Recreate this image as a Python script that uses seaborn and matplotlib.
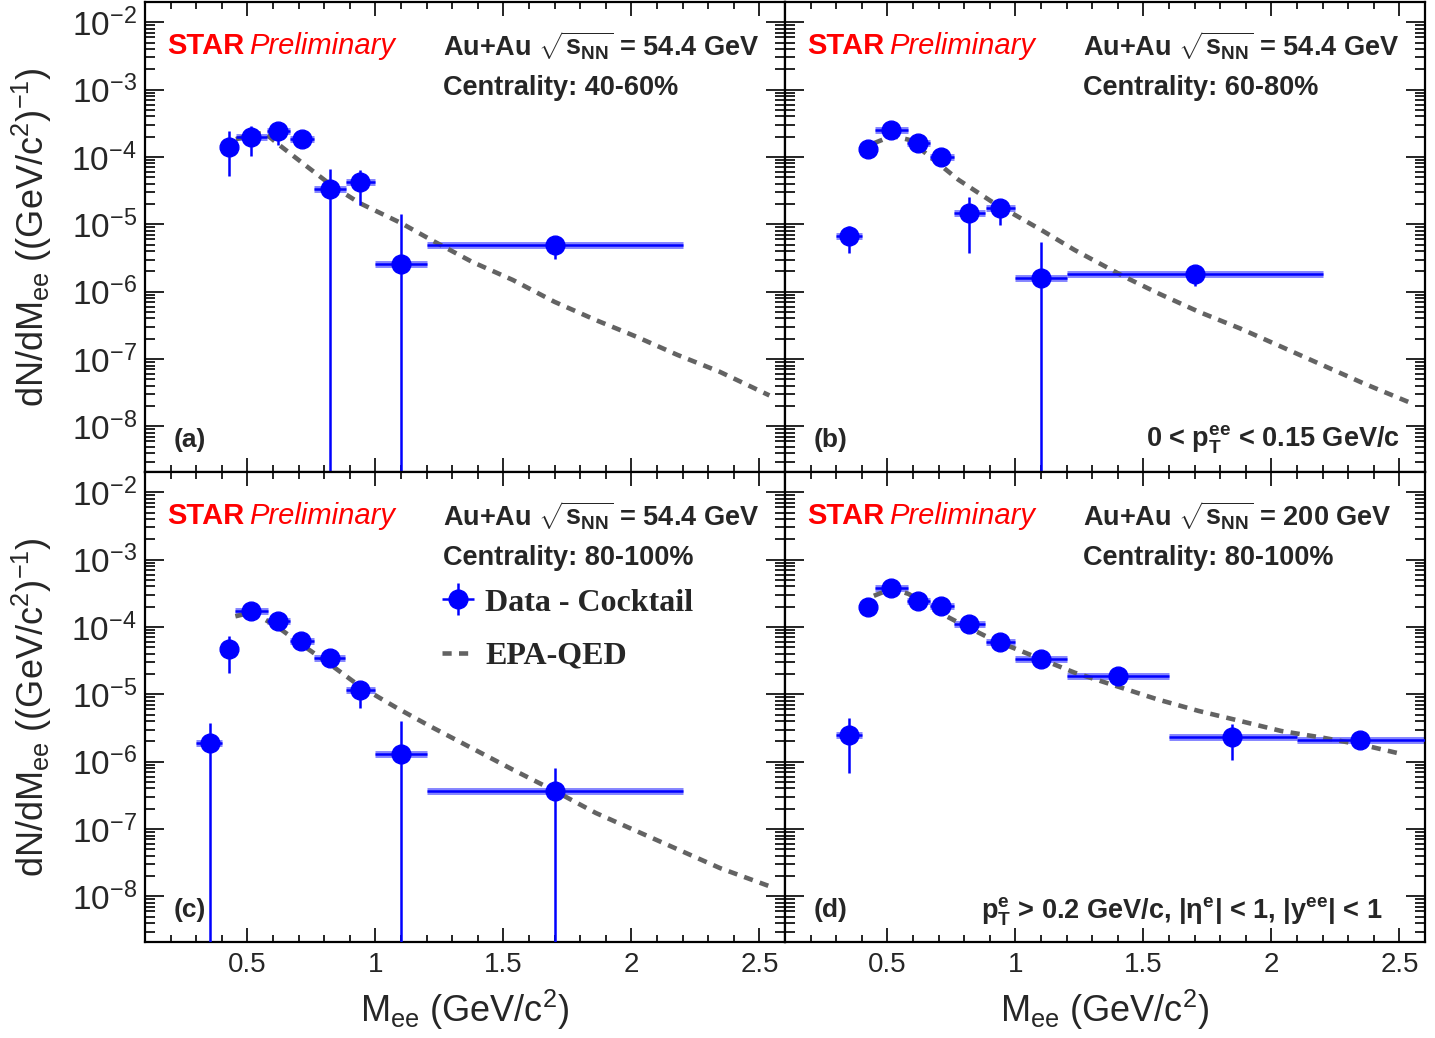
import numpy as np
import matplotlib
matplotlib.use("Agg")
import matplotlib.pyplot as plt
import seaborn as sns
from matplotlib.ticker import (FixedLocator, MultipleLocator, NullFormatter,
                               FuncFormatter, LogFormatterSciNotation)

# ---------------- data ----------------
# Panel (a): Au+Au 54.4 GeV, 40-60%
a_x = [0.427, 0.516, 0.621, 0.713, 0.821, 0.939, 1.10, 1.70]
a_xlo = [0.40, 0.455, 0.575, 0.665, 0.76, 0.885, 1.0, 1.2]
a_xhi = [0.45, 0.575, 0.665, 0.76, 0.885, 1.0, 1.2, 2.2]
a_y = [1.43e-4, 2.0e-4, 2.4e-4, 1.84e-4, 3.36e-5, 4.3e-5, 2.55e-6, 4.93e-6]
a_yhi = [2.4e-4, 2.84e-4, 2.9e-4, 2.1e-4, 6.65e-5, 6.5e-5, 1.43e-5, 5.4e-6]
a_ylo = [5.3e-5, 1.05e-4, 1.5e-4, 1.6e-4, 0.0, 1.95e-5, 0.0, 3.1e-6]
a_cx = [0.455, 0.536, 0.568, 0.632, 0.729, 0.826, 0.939, 1.101, 1.214, 1.376, 1.537,
        1.699, 1.86, 2.02, 2.18, 2.345, 2.539]
a_cy = [1.84e-4, 2.21e-4, 2.26e-4, 1.43e-4, 7.4e-5, 3.85e-5, 2.06e-5, 1.04e-5, 5.98e-6,
        2.79e-6, 1.49e-6, 7.08e-7, 3.8e-7, 2.14e-7, 1.15e-7, 6.46e-8, 2.88e-8]

# Panel (b): Au+Au 54.4 GeV, 60-80%
b_x = [0.350, 0.426, 0.516, 0.620, 0.710, 0.820, 0.940, 1.10, 1.70]
b_xlo = [0.30, 0.40, 0.45, 0.575, 0.665, 0.76, 0.885, 1.0, 1.2]
b_xhi = [0.40, 0.45, 0.58, 0.665, 0.76, 0.88, 1.0, 1.2, 2.2]
b_y = [6.7e-6, 1.32e-4, 2.54e-4, 1.6e-4, 9.9e-5, 1.49e-5, 1.73e-5, 1.57e-6, 1.8e-6]
b_yhi = [9.3e-6, 1.5e-4, 2.9e-4, 1.8e-4, 1.1e-4, 2.58e-5, 2.3e-5, 5.4e-6, 2.1e-6]
b_ylo = [3.7e-6, 1.15e-4, 2.2e-4, 1.4e-4, 8.8e-5, 3.7e-6, 9.7e-6, 0.0, 1.2e-6]
b_cx = [0.447, 0.519, 0.584, 0.665, 0.778, 0.907, 1.101, 1.231, 1.425, 1.554, 1.716,
        1.878, 2.039, 2.2, 2.363, 2.549]
b_cy = [1.6e-4, 2.06e-4, 1.8e-4, 1.02e-4, 4.57e-5, 2.18e-5, 8.24e-6, 4.16e-6, 1.67e-6,
        9.6e-7, 5.03e-7, 2.84e-7, 1.52e-7, 8.1e-8, 4.3e-8, 2.19e-8]

# Panel (c): Au+Au 54.4 GeV, 80-100%
c_x = [0.353, 0.427, 0.515, 0.620, 0.710, 0.821, 0.939, 1.10, 1.70]
c_xlo = [0.30, 0.40, 0.45, 0.575, 0.665, 0.76, 0.885, 1.0, 1.2]
c_xhi = [0.40, 0.45, 0.58, 0.665, 0.76, 0.88, 1.0, 1.2, 2.2]
c_y = [1.89e-6, 4.71e-5, 1.71e-4, 1.24e-4, 6.1e-5, 3.47e-5, 1.15e-5, 1.3e-6, 3.7e-7]
c_yhi = [3.75e-6, 7.4e-5, 1.9e-4, 1.4e-4, 7.0e-5, 3.9e-5, 1.6e-5, 3.97e-6, 8.05e-7]
c_ylo = [0.0, 2.1e-5, 1.55e-4, 1.1e-4, 5.3e-5, 3.0e-5, 6.3e-6, 0.0, 0.0]
c_cx = [0.453, 0.518, 0.615, 0.712, 0.825, 0.939, 1.084, 1.214, 1.375, 1.537, 1.699,
        1.861, 2.023, 2.184, 2.346, 2.54]
c_cy = [1.44e-4, 1.65e-4, 1.02e-4, 5.47e-5, 2.75e-5, 1.32e-5, 6.27e-6, 3.35e-6, 1.6e-6,
        7.6e-7, 3.7e-7, 1.73e-7, 9.2e-8, 4.93e-8, 2.63e-8, 1.41e-8]

# Panel (d): Au+Au 200 GeV, 80-100%
d_x = [0.350, 0.426, 0.516, 0.620, 0.710, 0.820, 0.940, 1.10, 1.40, 1.848, 2.346]
d_xlo = [0.30, 0.40, 0.45, 0.575, 0.665, 0.76, 0.885, 1.0, 1.2, 1.6, 2.1]
d_xhi = [0.40, 0.45, 0.58, 0.665, 0.76, 0.88, 1.0, 1.2, 1.6, 2.1, 2.6]
d_y = [2.49e-6, 2.0e-4, 3.82e-4, 2.4e-4, 2.06e-4, 1.1e-4, 6.08e-5, 3.32e-5, 1.87e-5,
       2.34e-6, 2.09e-6]
d_yhi = [4.4e-6, 2.2e-4, 4.1e-4, 2.6e-4, 2.2e-4, 1.2e-4, 6.6e-5, 3.6e-5, 2.0e-5,
         3.57e-6, 2.6e-6]
d_ylo = [6.8e-7, 1.8e-4, 3.55e-4, 2.2e-4, 1.9e-4, 1.0e-4, 5.6e-5, 3.05e-5, 1.7e-5,
         1.05e-6, 1.6e-6]
d_cx = [0.447, 0.519, 0.584, 0.665, 0.778, 0.907, 1.101, 1.231, 1.393, 1.554, 1.716,
        1.878, 2.039, 2.2, 2.363, 2.516]
d_cy = [2.9e-4, 3.73e-4, 3.08e-4, 1.95e-4, 1.16e-4, 6.6e-5, 3.32e-5, 2.1e-5, 1.33e-5,
        8.43e-6, 5.66e-6, 4.02e-6, 2.85e-6, 2.27e-6, 1.75e-6, 1.28e-6]

panel_tags = ["(a)", "(b)", "(c)", "(d)"]
energies = ["54.4", "54.4", "54.4", "200"]
centralities = ["40-60%", "60-80%", "80-100%", "80-100%"]
x_ticks = [0.5, 1.0, 1.5, 2.0, 2.5]
y_ticks = [1e-8, 1e-7, 1e-6, 1e-5, 1e-4, 1e-3, 1e-2]
x_range = (0.1, 2.6)
y_range = (2.1e-9, 2.0e-2)

# ---------------- style ----------------
sns.set_theme(style="ticks")
plt.rcParams["font.family"] = ["Liberation Sans", "DejaVu Sans"]
plt.rcParams.update({
    "mathtext.fontset": "custom",
    "mathtext.rm": "Liberation Sans",
    "mathtext.it": "Liberation Sans:italic",
    "mathtext.bf": "Liberation Sans:bold",
    "mathtext.default": "regular",
    "lines.dashed_pattern": [2.0, 1.6],
    "axes.linewidth": 1.6,
    "axes.edgecolor": "black",
})

BLUE = "#0000ff"
LIGHT = "#8585ff"
GREY = "#636363"

fig = plt.figure(figsize=(14.35, 10.38), dpi=100)
W, H = 640 / 1435, 470 / 1038
lefts = [145 / 1435, 785 / 1435]
bottoms = [1 - 472 / 1038, 1 - 942 / 1038]

panels = [
    (a_x, a_xlo, a_xhi, a_y, a_ylo, a_yhi, a_cx, a_cy),
    (b_x, b_xlo, b_xhi, b_y, b_ylo, b_yhi, b_cx, b_cy),
    (c_x, c_xlo, c_xhi, c_y, c_ylo, c_yhi, c_cx, c_cy),
    (d_x, d_xlo, d_xhi, d_y, d_ylo, d_yhi, d_cx, d_cy),
]

# minor log ticks (2..9 x decade) inside the visible range
minor_y = [m * 10.0 ** e for e in range(-9, -1) for m in range(2, 10)
           if y_range[0] <= m * 10.0 ** e <= y_range[1]]

axes = []
for i, (x, xlo, xhi, y, ylo, yhi, cx, cy) in enumerate(panels):
    row, col = divmod(i, 2)
    ax = fig.add_axes([lefts[col], bottoms[row], W, H])
    axes.append(ax)
    ax.set_yscale("log")
    x = np.array(x); y = np.array(y)
    xlo = np.array(xlo); xhi = np.array(xhi)
    ylo = np.array(ylo); yhi = np.array(yhi)

    # systematic bands around the bin-width bars
    ax.hlines(y, xlo, xhi, colors=LIGHT, lw=5, zorder=2)
    # EPA-QED curve
    sns.lineplot(x=cx, y=cy, ax=ax, color=GREY, lw=3.3, ls="--", zorder=3,
                 legend=False)
    curve_line = ax.lines[-1]
    # data points
    eb = ax.errorbar(x, y, xerr=[x - xlo, xhi - x], yerr=[y - ylo, yhi - y],
                     fmt="o", color=BLUE, ms=13.5, mec=BLUE, elinewidth=1.8,
                     capsize=0, zorder=4)
    if i == 2:
        data_handle = eb
        curve_handle = curve_line

    ax.set_xlim(*x_range)
    ax.set_ylim(*y_range)
    ax.xaxis.set_major_locator(FixedLocator(x_ticks))
    ax.xaxis.set_minor_locator(MultipleLocator(0.1))
    ax.yaxis.set_major_locator(FixedLocator(y_ticks))
    ax.yaxis.set_minor_locator(FixedLocator(minor_y))
    ax.yaxis.set_major_formatter(LogFormatterSciNotation())
    ax.yaxis.set_minor_formatter(NullFormatter())
    ax.xaxis.set_major_formatter(FuncFormatter(lambda v, p: "%g" % v))
    ax.tick_params(which="both", direction="in", top=True, right=True,
                   width=1.2, color="black")
    ax.tick_params(axis="y", which="major", length=13.5, labelsize=24, pad=6)
    ax.tick_params(axis="y", which="minor", length=7)
    ax.tick_params(axis="x", which="major", length=10, labelsize=20, pad=7)
    ax.tick_params(axis="x", which="minor", length=5)
    if row == 0:
        ax.tick_params(axis="x", labelbottom=False)
    if col == 1:
        ax.tick_params(axis="y", labelleft=False)
    if col == 0:
        ax.set_ylabel(r"dN/dM$_{ee}$ ((GeV/c$^{2}$)$^{-1}$)", fontsize=26)
        ax.yaxis.set_label_coords(-0.142, 0.5)
    else:
        ax.set_ylabel(None)
    if row == 1:
        ax.set_xlabel(r"M$_{ee}$ (GeV/c$^{2}$)", fontsize=26)
        ax.xaxis.set_label_coords(0.5, -0.098)
    else:
        ax.set_xlabel(None)
    for s in ax.spines.values():
        s.set_visible(True)
        s.set_linewidth(1.6)

    # annotations
    star = ax.text(0.034, 0.906, "STAR", transform=ax.transAxes, color="#ff0000",
                   fontsize=21, fontweight="bold", va="center", ha="left")
    ax.annotate("Preliminary", xy=(1, 0), xycoords=star, xytext=(4, 0),
                textcoords="offset points", color="#ff0000", fontsize=21,
                fontstyle="italic", va="bottom", ha="left")
    ax.text(0.466, 0.906, r"Au+Au $\sqrt{s_{NN}}$ = %s GeV" % energies[i],
            transform=ax.transAxes, fontsize=19.5, fontweight="bold",
            va="center", ha="left")
    ax.text(0.466, 0.817, "Centrality: %s" % centralities[i],
            transform=ax.transAxes, fontsize=19.5, fontweight="bold",
            va="center", ha="left")
    ax.text(0.044, 0.068, panel_tags[i], transform=ax.transAxes, fontsize=19,
            fontweight="bold", va="center", ha="left")

axes[1].text(0.961, 0.068, r"0 < p$_{T}^{ee}$ < 0.15 GeV/c",
             transform=axes[1].transAxes, fontsize=19.5, fontweight="bold",
             va="center", ha="right")
axes[3].text(0.933, 0.064, r"p$_{T}^{e}$ > 0.2 GeV/c, |η$^{e}$| < 1, |y$^{ee}$| < 1",
             transform=axes[3].transAxes, fontsize=19.5, fontweight="bold",
             va="center", ha="right")

leg = axes[2].legend([data_handle, curve_handle], ["Data - Cocktail", "EPA-QED"],
                     loc="upper left", bbox_to_anchor=(0.444, 0.78), frameon=False,
                     handlelength=1.0, handletextpad=0.35, labelspacing=0.75,
                     borderaxespad=0.0,
                     prop={"family": ["Liberation Serif", "DejaVu Serif"],
                           "weight": "bold", "size": 23})

fig.savefig("out.png", dpi=100)
